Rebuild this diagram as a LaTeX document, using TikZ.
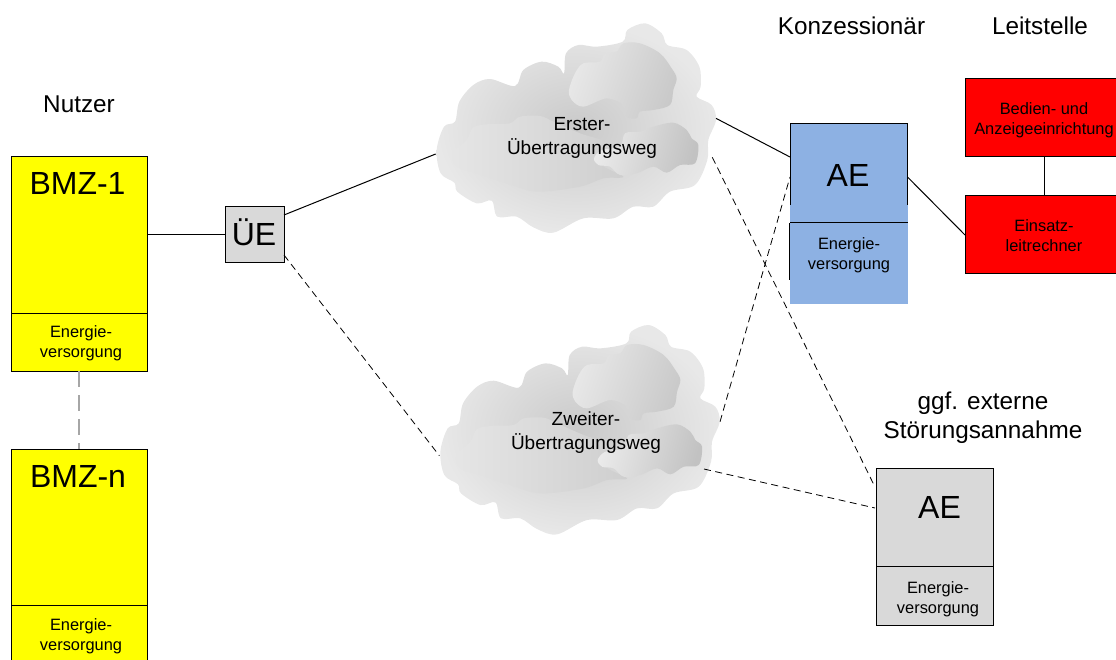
\documentclass[tikz,border=0pt]{standalone}
\usepackage{fontspec}
\setmainfont{Liberation Sans}
\definecolor{aeblau}{HTML}{8DB1E3}
\definecolor{bmzgelb}{HTML}{FFFF00}
\definecolor{leitrot}{HTML}{FF0000}
\begin{document}
\begin{tikzpicture}[x=1pt,y=-1pt,line width=1pt,
box/.style={%
anchor=north west,
draw,
inner sep=0pt,
outer sep=0pt,
},
klein/.style={%
align=center,
inner sep=0pt,
font=\fontsize{16.4}{20}\selectfont,
},
head/.style={%
align=center,
inner sep=0pt,
font=\fontsize{24.3}{29}\selectfont,
},
gross/.style={%
anchor=base,
inner sep=0pt,
font=\fontsize{32}{36}\selectfont,
},
wolketext/.style={%
align=center,
inner sep=0pt,
font=\fontsize{19}{24}\selectfont,
},
weg/.style={%
dash pattern=on 7pt off 4.5pt,
line width=0.8pt,
},
wolke/.pic={%
\begin{scope}[scale=1/3]
\shade[inner color=black!21,outer color=black!9] plot[smooth cycle,tension=0.55] coordinates {(50,420)(72,350)(105,335)(118,275)(160,225)(210,207)(285,228)(310,180)(365,155)(415,170)(432,190)(438,130)(475,105)(530,110)(608,95)(622,60)(675,40)(725,70)(742,105)(800,120)(838,170)(842,230)(830,260)(875,285)(888,330)(865,390)(862,450)(825,525)(750,545)(700,590)(640,590)(580,625)(490,625)(400,668)(340,652)(290,620)(232,620)(215,572)(170,580)(112,545)(103,518)(62,490)};
\shade[left color=black!10,right color=black!19] plot[smooth cycle,tension=0.55] coordinates {(98,430)(140,390)(160,352)(210,342)(270,340)(300,320)(360,318)(400,335)(480,370)(560,400)(540,460)(610,500)(550,505)(480,530)(350,545)(260,520)(170,490)(110,470)};
\shade[left color=black!9,right color=black!21,shading angle=70] plot[smooth cycle,tension=0.55] coordinates {(447,240)(465,190)(490,160)(540,155)(555,130)(590,125)(610,100)(660,100)(720,130)(755,175)(770,205)(760,240)(750,285)(700,300)(660,305)(650,325)(620,320)(610,285)(560,265)(490,290)(455,270)};
\shade[left color=black!8,right color=black!24,shading angle=75] plot[smooth cycle,tension=0.55] coordinates {(522,445)(545,420)(600,410)(615,370)(660,365)(700,350)(760,338)(800,360)(815,385)(835,405)(825,460)(780,465)(740,488)(700,470)(650,490)(600,495)(570,470)(535,465)};
\coordinate (-w) at (47,432);
\coordinate (-o) at (888,325);
\coordinate (-so) at (877,442);
\coordinate (-ob) at (889,330);
\coordinate (-sb) at (841,472);
\end{scope}
},
]
\useasboundingbox (0,0) rectangle (1116,660);
\clip (0,0) rectangle (1116,660);
%% Headers
\node[head](nutzer)at(79,104){Nutzer};
\node[head](konz)at(851.5,26){Konzessionär};
\node[head](leit)at(1040,26){Leitstelle};
\node[head](extern)at(983,418){ggf. externe\\Störungsannahme};
%% Clouds
\pic(wolkeA)at(420,10){wolke};
\pic(wolkeB)at(423.7,311.7){wolke};
\node[wolketext](ersterT)at(582,138){Erster-\\Übertragungsweg};
\node[wolketext](zweiterT)at(586,433){Zweiter-\\Übertragungsweg};
%% Nutzer
\node[box,fill=bmzgelb,minimum width=136pt,minimum height=156pt](bmzA)at(11,157){};
\node[box,fill=bmzgelb,minimum width=136pt,minimum height=58pt](bmzAe)at(11,313){};
\node[box,fill=bmzgelb,minimum width=136pt,minimum height=156pt](bmzN)at(11,449){};
\node[box,fill=bmzgelb,minimum width=136pt,minimum height=58pt](bmzNe)at(11,605){};
\node[klein](bmzAk)at(81,343){Energie-\\versorgung};
\node[klein](bmzNk)at(81,636){Energie-\\versorgung};
\node[gross](bmzAt)at(77.5,195){BMZ-1};
\node[gross](bmzNt)at(78,487){BMZ-n};
\node[box,fill=black!15,minimum width=59pt,minimum height=56pt](ue)at(225,207){};
\node[gross](uet)at(254,246){ÜE};
%% Konzessionaer
\node[box,draw=none,fill=aeblau,minimum width=118pt,minimum height=180pt](ae)at(790,124){};
\node[gross](aet)at(848,187){AE};
\node[klein](aek)at(849,255.5){Energie-\\versorgung};
\draw (790,205)--(790,124)--(907.5,124)--(907.5,205);
\draw (790,223)--(907.5,223);
\draw (789.5,223)--(789.5,280);
%% Leitstelle
\node[box,fill=leitrot,minimum width=158pt,minimum height=78pt](bedien)at(965,79){};
\node[box,fill=leitrot,minimum width=158pt,minimum height=78pt](einsatz)at(965,196){};
\node[klein](bedienk)at(1044,120){Bedien- und\\Anzeigeeinrichtung};
\node[klein](einsatzk)at(1044,236){Einsatz-\\leitrechner};
%% externe Annahme
\node[box,fill=black!15,minimum width=117pt,minimum height=98pt](aeX)at(876,468){};
\node[box,fill=black!15,minimum width=117pt,minimum height=59pt](aeXe)at(876,566){};
\node[klein](aeXk)at(938,599){Energie-\\versorgung};
\node[gross](aeXt)at(939.5,518){AE};
%% Connectors
\coordinate(ueO)at(284,215);
\coordinate(ueU)at(284,255);
\coordinate(aeA)at(790,157);
\coordinate(aeB)at(790,177);
\coordinate(aeO)at(907.5,177);
\coordinate(aeXa)at(875,487);
\coordinate(aeXb)at(875,508);
\draw (bmzA.east)--(ue.west);
\draw (ueO)--(wolkeA-w);
\draw (wolkeA-o)--(aeA);
\draw (aeO)--(einsatz.west);
\draw (bedien.south)--(einsatz.north);
\draw[weg] (ueU)--(wolkeB-w);
\draw[weg] (wolkeA-so)--(aeXa);
\draw[weg] (wolkeB-ob)--(aeB);
\draw[weg] (wolkeB-sb)--(aeXb);
\draw[black!35,line width=1.5pt,dash pattern=on 16pt off 8pt] (bmzAe.south)--(bmzN.north);
\end{tikzpicture}
\end{document}
